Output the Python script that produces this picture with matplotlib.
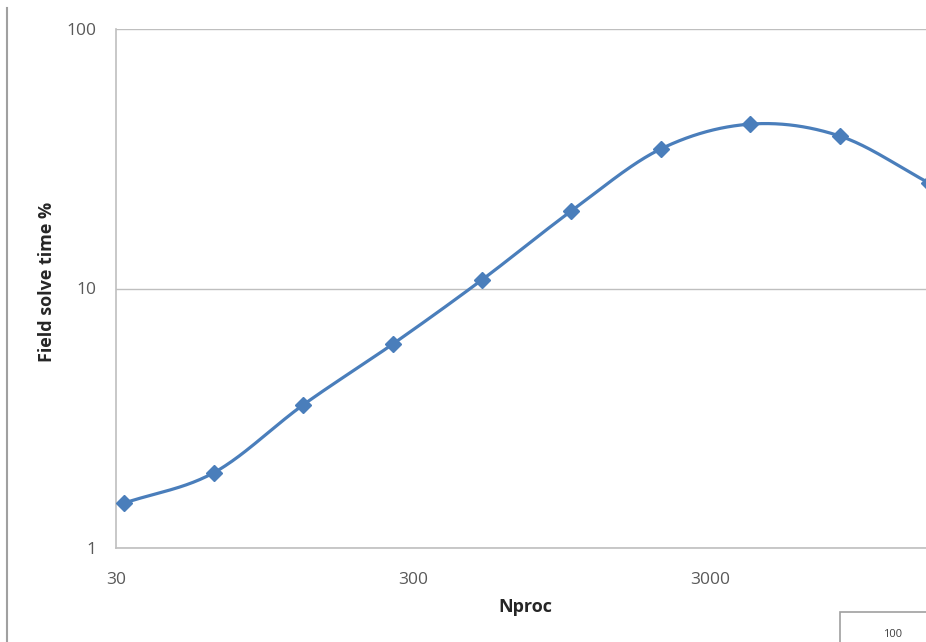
import numpy as np
import matplotlib.pyplot as plt
from matplotlib.lines import Line2D
from matplotlib.patches import Rectangle

# processor counts and share of runtime spent in the field solve
nproc = [32, 64, 128, 256, 512, 1024, 2048, 4096, 8192, 16384]
field_pct = [1.49, 1.95, 3.56, 6.1, 10.8, 19.9, 34.5, 43.0, 38.7, 25.5]

blue = '#4a7ebb'
grid_col = '#bfbfbf'
txt_col = '#595959'
plt.rcParams['font.family'] = ['Open Sans', 'DejaVu Sans']


def smooth(xs, ys, n=40):
    # Catmull-Rom through the points in log-log space (Excel "smoothed line")
    px = np.log10(xs)
    py = np.log10(ys)
    P = np.column_stack([px, py])
    P = np.vstack([2 * P[0] - P[1], P, 2 * P[-1] - P[-2]])
    out = []
    for i in range(1, len(P) - 2):
        p0, p1, p2, p3 = P[i - 1], P[i], P[i + 1], P[i + 2]
        c1 = p1 + (p2 - p0) / 6
        c2 = p2 - (p3 - p1) / 6
        t = np.linspace(0, 1, n)[:, None]
        seg = ((1 - t) ** 3) * p1 + 3 * ((1 - t) ** 2) * t * c1 + 3 * (1 - t) * t ** 2 * c2 + t ** 3 * p2
        out.append(seg)
    seg = np.vstack(out)
    return 10 ** seg[:, 0], 10 ** seg[:, 1]


fig = plt.figure(figsize=(9.26, 6.42), dpi=100)
ax = fig.add_axes([116 / 926, 94 / 642, 1 - 116 / 926, 519 / 642])

sx, sy = smooth(nproc, field_pct)
ax.plot(sx, sy, color=blue, lw=2.3, solid_capstyle='round', clip_on=False, zorder=3)
ax.plot(nproc, field_pct, linestyle='none', marker='D', ms=8.5, color=blue, clip_on=False, zorder=4)

ax.set_xscale('log')
ax.set_yscale('log')
ax.set_xlim(30, 16000)
ax.set_ylim(1, 100)
ax.set_xticks([30, 300, 3000])
ax.set_xticklabels(['30', '300', '3000'])
ax.set_yticks([1, 10, 100])
ax.set_yticklabels(['1', '10', '100'])
ax.minorticks_off()
ax.tick_params(length=0, labelsize=12.5, colors=txt_col)
ax.tick_params(axis='x', pad=17)
ax.tick_params(axis='y', pad=14)

ax.yaxis.grid(True, color=grid_col, lw=1)
ax.set_axisbelow(True)
for s in ['top', 'right']:
    ax.spines[s].set_visible(False)
for s in ['left', 'bottom']:
    ax.spines[s].set_color(grid_col)
    ax.spines[s].set_linewidth(1.2)

ax.set_xlabel('Nproc', fontsize=13, fontweight='bold', color='#262626')
ax.set_ylabel('Field solve time %', fontsize=13, fontweight='bold', color='#262626')
ax.xaxis.set_label_coords(0.505, -0.114)
ax.yaxis.set_label_coords(-0.085, 0.512)
ax.xaxis.label.set_va('center')
ax.yaxis.label.set_va('center')

# edge of the neighbouring panel on the left and the next chart's corner
fig.add_artist(Line2D([7 / 926, 7 / 926], [0, 1 - 8 / 642], color='#a0a0a0', lw=1.5))
fig.add_artist(Rectangle((840 / 926, -0.1), 0.2, 0.1 + 30 / 642, transform=fig.transFigure,
                         fill=False, edgecolor='#a0a0a0', lw=1.2))
fig.text(893 / 926, 2 / 642, '100', fontsize=8, color='#404040', ha='center', va='bottom')

fig.savefig('out.png', dpi=100)
